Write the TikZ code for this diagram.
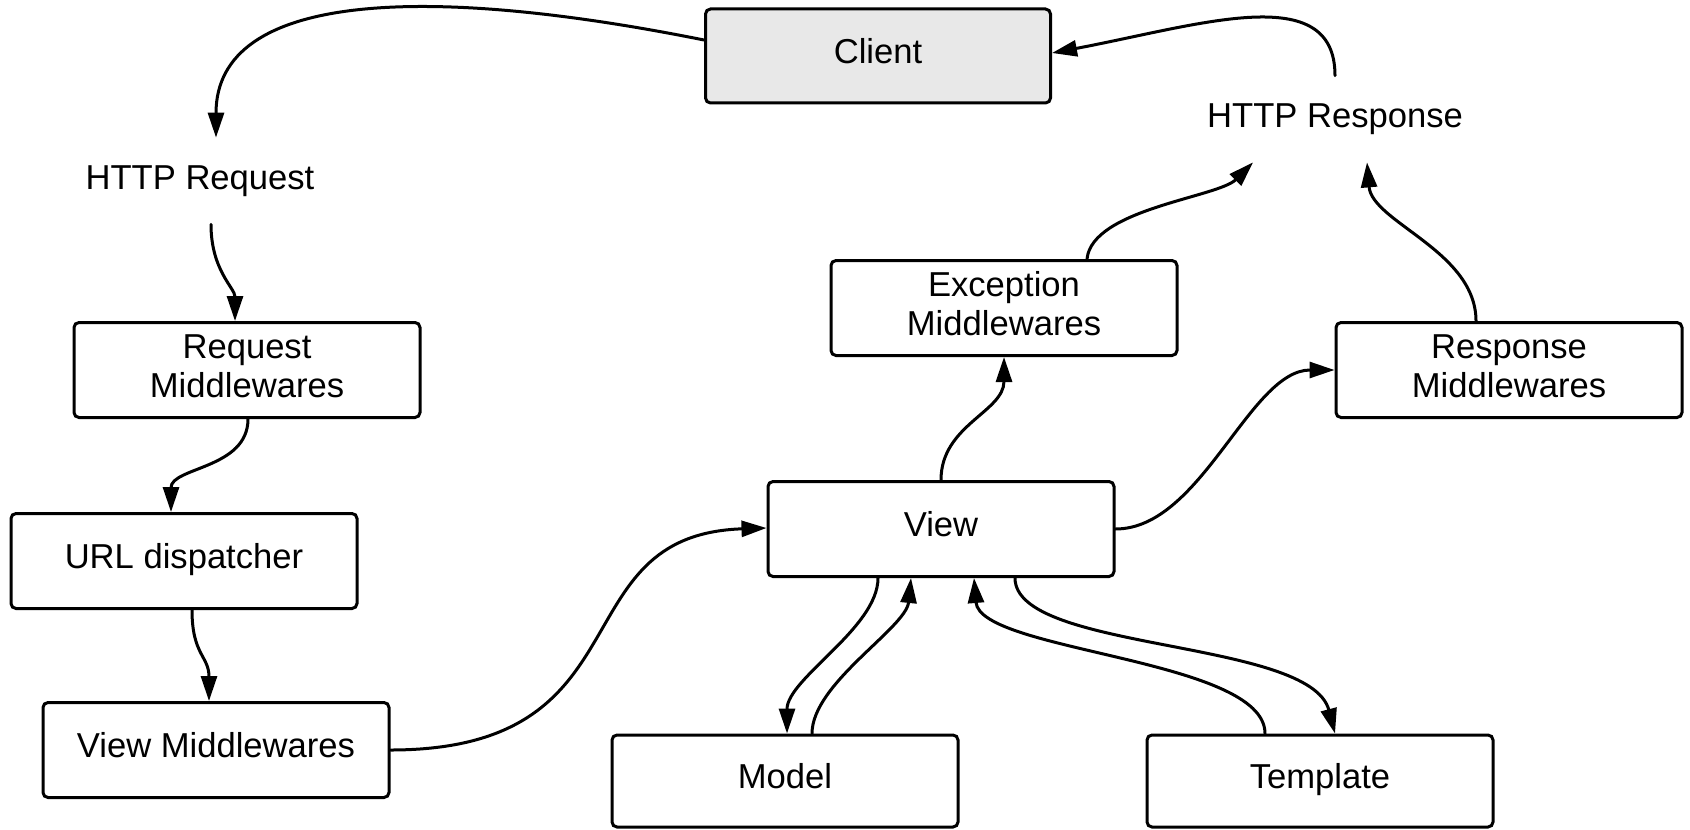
\documentclass[tikz,border=0pt]{standalone}
\usepackage{fontspec}
\setmainfont{Liberation Sans}
\usetikzlibrary{arrows.meta}
\newcommand{\diagfont}{\fontsize{17.3pt}{19.5pt}\selectfont}
\newcommand{\bt}[1]{\begin{tabular}{@{}c@{}}#1\end{tabular}}
\tikzset{
  box/.style={draw, line width=1.5pt, rounded corners=2.5pt, minimum width=173pt,
    minimum height=47.5pt, font=\diagfont, inner sep=2pt},
  lbl/.style={align=center, font=\diagfont, inner sep=0pt},
  conn/.style={line width=1.5pt, line cap=round, -{Triangle[length=12.5pt,width=8pt]}}
}
\begin{document}
\begin{tikzpicture}[x=0.5pt,y=-0.5pt]
\useasboundingbox (0,0) rectangle (1690,829);
% nodes
\node[box, fill=black!9, minimum width=172.5pt, minimum height=47pt] (client) at (878,56) {\bt{Client}};
\node[lbl, minimum height=43pt, minimum width=120pt] (httpreq) at (200,181) {HTTP Request};
\node[lbl, minimum height=43pt, minimum width=125pt] (httpresp) at (1335,119) {HTTP Response};
\node[box] (reqmw) at (247,370) {\bt{Request\\Middlewares}};
\node[box] (url) at (184,561) {\bt{URL dispatcher}};
\node[box] (viewmw) at (216,750) {\bt{View Middlewares}};
\node[box] (exc) at (1004,308) {\bt{Exception\\Middlewares}};
\node[box] (respmw) at (1509,370) {\bt{Response\\Middlewares}};
\node[box] (view) at (941,529) {\bt{View}};
\node[box, minimum height=46pt] (model) at (785,781) {\bt{Model}};
\node[box, minimum height=46pt] (tmpl) at (1320,781) {\bt{Template}};
% connectors
\draw[conn] ([yshift=8pt]client.west) .. controls (430,-15) and (216,-10) .. ([xshift=8pt]httpreq.north);
\draw[conn] (httpresp.north) .. controls +(0,-96) and +(148,-28) .. ([yshift=1.5pt]client.east);
\draw[conn] ([xshift=5.5pt]httpreq.south) .. controls +(0,46) and +(0,-33) .. ([xshift=-6pt]reqmw.north);
\draw[conn] ([xshift=0.5pt]reqmw.south) .. controls +(0,50) and +(0,-45) .. ([xshift=-6.5pt]url.north);
\draw[conn] ([xshift=4pt]url.south) .. controls +(0,45) and +(0,-45) .. ([xshift=-3.5pt]viewmw.north);
\draw[conn] (viewmw.east) .. controls +(260,0) and +(-209,7) .. ([yshift=0.5pt]view.west);
\draw[conn] (view.north) .. controls +(0,-55) and +(0,55) .. (exc.south);
\draw[conn] (view.east) .. controls +(86,0) and +(-85,0) .. (respmw.west);
\draw[conn] ([xshift=41.5pt]exc.north) .. controls +(5,-50) and +(-35,35) .. ([xshift=-41pt]httpresp.south);
\draw[conn] ([xshift=-16.5pt]respmw.north) .. controls +(0,-70) and +(5,60) .. ([xshift=16pt]httpresp.south);
\draw[conn] ([xshift=-31.5pt]view.south) .. controls +(0,50) and +(0,-55) .. ([xshift=1pt]model.north);
\draw[conn] ([xshift=13.5pt]model.north) .. controls +(0,-50) and +(-5,50) .. ([xshift=-15pt]view.south);
\draw[conn] ([xshift=-27.5pt]tmpl.north) .. controls +(0,-75) and +(6,74) .. ([xshift=16.5pt]view.south);
\draw[conn] ([xshift=37pt]view.south) .. controls +(0,74) and +(-25,-95) .. ([xshift=7.5pt]tmpl.north);
\end{tikzpicture}
\end{document}
